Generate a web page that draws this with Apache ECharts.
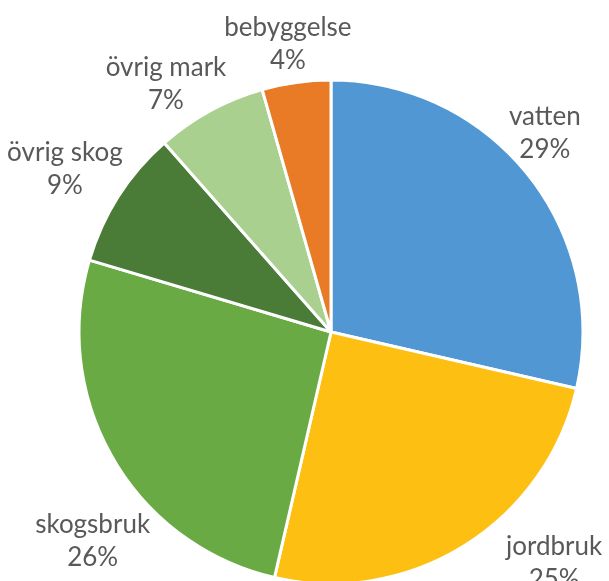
<!DOCTYPE html>
<html>
<head>
<meta charset="utf-8">
<script src="https://cdn.jsdelivr.net/npm/echarts@6/dist/echarts.min.js"></script>
<style>
  html, body { margin: 0; padding: 0; background: #fff; }
  #chart { width: 609px; height: 581px; }
</style>
</head>
<body>
<div id="chart"></div>
<script>
// markanvändning, medurs från klockan 12
const categories = ['vatten', 'jordbruk', 'skogsbruk', 'övrig skog', 'övrig mark', 'bebyggelse'];
const shares = [28.6, 25.0, 26.0, 8.9, 7.1, 4.4];
const colors = ['#5097d3', '#fdbf12', '#69aa45', '#4a7c38', '#a9d08e', '#e97a26'];

const CX = 331, CY = 332, R = 252;
const LABEL_R = 300;
// justering av etiketter: [grader, px] relativt mittvinkeln (som Excels "bästa passning")
const labelTweak = {
    'vatten': [-4.4, -8],
    'jordbruk': [-12, 21],
    'skogsbruk': [-11, 17],
    'övrig skog': [-1.1, 12],
    'övrig mark': [-5, -2],
    'bebyggelse': [-0.6, -9]
};

const total = shares.reduce((a, b) => a + b, 0);
// mittvinkel per tårtbit (grader, medurs från toppen)
const midAngles = [];
let acc = 0;
shares.forEach(v => {
    midAngles.push((acc + v / 2) / total * 360);
    acc += v;
});

const chart = echarts.init(document.getElementById('chart'));

chart.setOption({
    animation: false,
    series: [{
        type: 'pie',
        center: [CX, CY],
        radius: R,
        startAngle: 90,
        clockwise: true,
        data: categories.map((name, i) => ({
            name: name,
            value: shares[i],
            itemStyle: { color: colors[i] }
        })),
        itemStyle: { borderColor: '#fff', borderWidth: 3 },
        label: {
            show: true,
            position: 'outside',
            formatter: p => p.name + '\n' + Math.round(p.percent) + '%',
            fontFamily: 'Lato',
            fontSize: 26,
            lineHeight: 33,
            color: '#595959',
            overflow: 'none'
        },
        labelLine: { show: false },
        emphasis: { disabled: true },
        labelLayout: function (params) {
            const tw = labelTweak[categories[params.dataIndex]] || [0, 0];
            const a = (midAngles[params.dataIndex] + tw[0]) * Math.PI / 180;
            const d = LABEL_R + tw[1];
            return {
                x: CX + Math.sin(a) * d,
                y: CY - Math.cos(a) * d,
                align: 'center',
                verticalAlign: 'middle'
            };
        }
    }]
});
</script>
</body>
</html>
